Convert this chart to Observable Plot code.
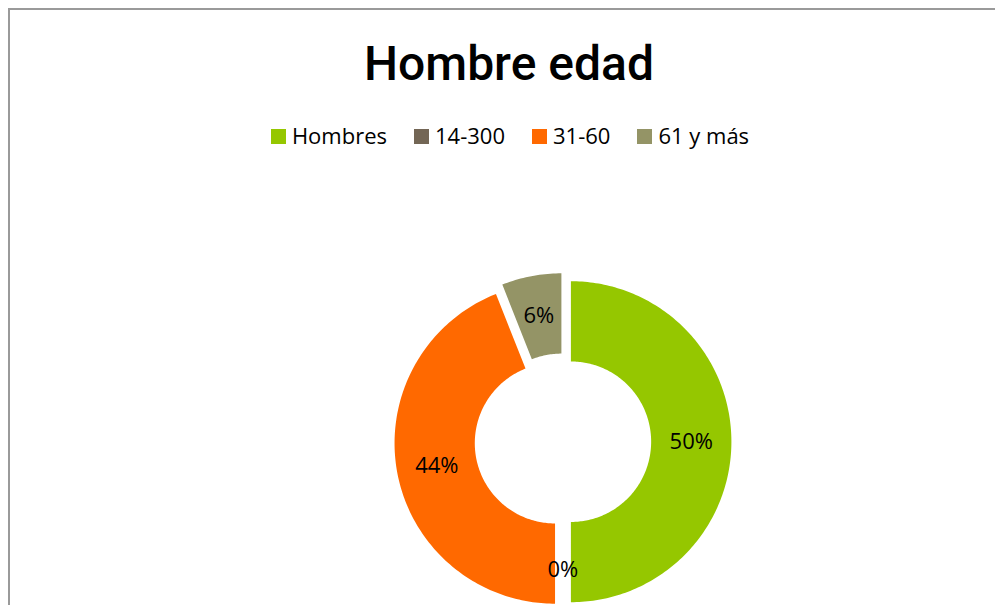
<!DOCTYPE html>
<html><head><meta charset="utf-8">
<script src="https://cdn.jsdelivr.net/npm/d3@7"></script>
<script src="https://cdn.jsdelivr.net/npm/@observablehq/plot@0.6"></script>
<style>
body{margin:0;background:#fff;}
#wrap{position:relative;width:995px;height:605px;overflow:hidden;background:#fff;}
#frame{position:absolute;left:8px;top:8px;width:1200px;height:800px;border-left:2px solid #9a9a9a;border-top:2px solid #9a9a9a;}
#title{position:absolute;left:0;width:1018px;top:40px;text-align:center;font-family:Roboto,sans-serif;font-weight:500;font-size:48px;line-height:48px;color:#000;white-space:nowrap;}
#legend{position:absolute;left:0;width:1020px;top:124px;text-align:center;font-family:"Open Sans",sans-serif;font-size:22px;line-height:22px;color:#000;white-space:nowrap;}
#legend .item{display:inline-block;margin:0 13.5px;}
#legend .sw{display:inline-block;width:15px;height:15px;margin-right:6px;vertical-align:baseline;}
#chart{position:absolute;left:0;top:180px;}
</style>
</head><body>
<div id="wrap">
  <div id="frame"></div>
  <div id="title">Hombre edad</div>
  <div id="legend"></div>
  <div id="chart"></div>
</div>
<script>
const categories = ["Hombres", "14-300", "31-60", "61 y más"];
const values = [50, 0, 44, 6];
const labels = ["50%", "0%", "44%", "6%"];
const colors = ["#95C700", "#736655", "#FF6900", "#949466"];

// layout constants (unit = outer radius)
const W = 995, H = 425;
const cx = 562.4, cy = 261.2, R = 160.5;
const inner = 0.5, explode = 8 / R, labelR = 0.75;

const pie = d3.pie().sort(null).value(d => d.value).startAngle(0).endAngle(2 * Math.PI);
const arcs = pie(categories.map((c, i) => ({cat: c, value: values[i], label: labels[i]})));

const pts = [];
const labs = [];
arcs.forEach(a => {
  const mid = (a.startAngle + a.endAngle) / 2;
  const ox = explode * Math.sin(mid), oy = explode * Math.cos(mid);
  labs.push({cat: a.data.cat, label: a.data.label,
    x: ox + labelR * Math.sin(mid), y: oy + labelR * Math.cos(mid)});
  if (a.endAngle - a.startAngle <= 0) return;
  const n = Math.max(2, Math.ceil((a.endAngle - a.startAngle) / (Math.PI / 180)));
  for (let i = 0; i <= n; i++) {
    const t = a.startAngle + (a.endAngle - a.startAngle) * i / n;
    pts.push({cat: a.data.cat, x: ox + Math.sin(t), y: oy + Math.cos(t)});
  }
  for (let i = n; i >= 0; i--) {
    const t = a.startAngle + (a.endAngle - a.startAngle) * i / n;
    pts.push({cat: a.data.cat, x: ox + inner * Math.sin(t), y: oy + inner * Math.cos(t)});
  }
});

const chart = Plot.plot({
  width: W, height: H,
  margin: 0,
  style: {background: "transparent", overflow: "visible"},
  x: {domain: [-cx / R, (W - cx) / R], axis: null},
  y: {domain: [-(H - cy) / R, cy / R], axis: null},
  color: {domain: categories, range: colors},
  marks: [
    Plot.line(pts, {x: "x", y: "y", z: "cat", fill: "cat", stroke: null, curve: "linear-closed"}),
    Plot.text(labs, {x: "x", y: "y", text: "label", fill: "#000", fontSize: 22,
      fontFamily: "'Open Sans', sans-serif", textAnchor: "middle", lineAnchor: "middle"})
  ]
});
document.getElementById("chart").appendChild(chart);

const legend = document.getElementById("legend");
categories.forEach((c, i) => {
  const it = document.createElement("span");
  it.className = "item";
  const sw = document.createElement("span");
  sw.className = "sw";
  sw.style.background = colors[i];
  it.appendChild(sw);
  it.appendChild(document.createTextNode(c));
  legend.appendChild(it);
});
</script>
</body></html>
